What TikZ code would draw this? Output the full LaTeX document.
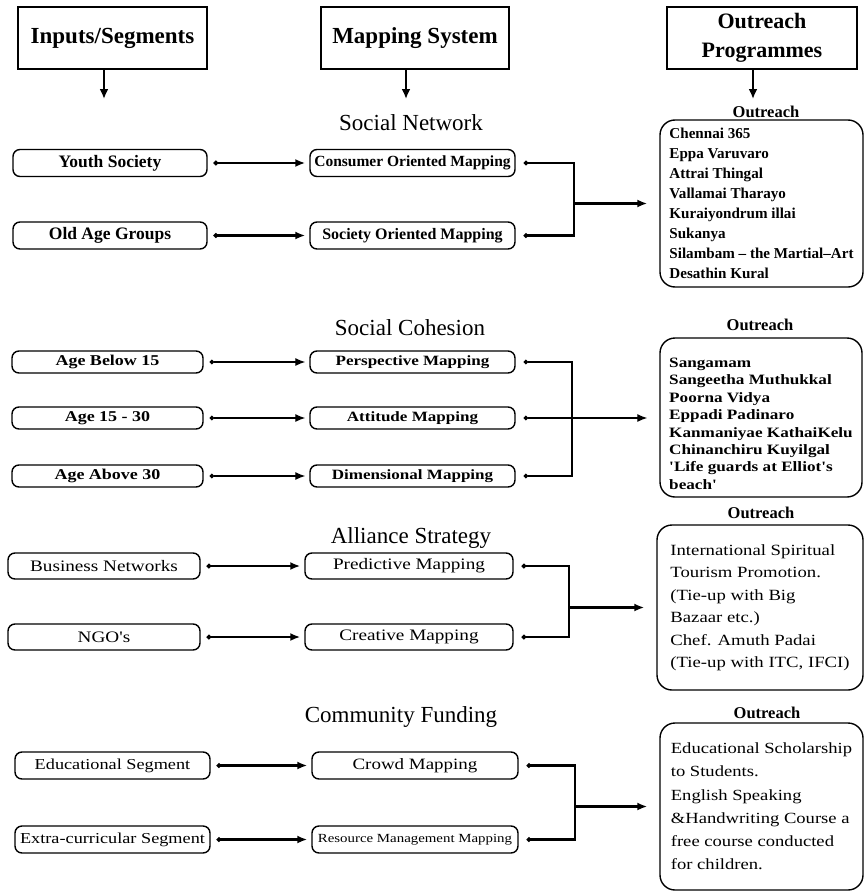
\documentclass[tikz,border=0pt]{standalone}
\usepackage{fontspec}
\setmainfont{Liberation Serif}
\newfontfamily\widerm[FakeStretch=1.2]{Liberation Serif}
\usetikzlibrary{arrows.meta}
\newcommand\fsz[2]{\fontsize{#1}{#2}\selectfont}

\begin{document}
\begin{tikzpicture}[x=1pt, y=-1pt,
    head/.style={draw, line width=1.5pt, minimum height=62pt, inner sep=0pt, align=center, font=\bfseries\fsz{23}{29}},
    seg/.style={draw, rounded corners=7pt, line width=1.4pt, inner sep=0pt},
    list/.style={draw, rounded corners=15pt, line width=1.4pt, align=left, inner sep=0pt},
    sect/.style={font=\fsz{23}{26}},
    olabel/.style={font=\bfseries\fsz{16.5}{18}},
    down/.style={line width=2.2pt, -{Latex[length=10pt,width=9pt]}},
    link/.style={line width=2.2pt, {Circle[length=4.5pt]}-{Latex[length=10pt,width=8pt]}, shorten <=6pt, shorten >=4pt},
    tail/.style={line width=2.2pt, {Circle[length=4.5pt]}-},
    feed/.style={line width=2.2pt, -{Latex[length=10pt,width=8pt]}, shorten >=12pt}]
\useasboundingbox (0,0) rectangle (865,891);

\node[head, minimum width=189pt] (hin) at (112.5,38) {Inputs/Segments};
\node[head, minimum width=188pt] (hmap) at (415,38) {Mapping System};
\node[head, minimum width=190pt, font=\bfseries\fsz{22}{29}] (hout) at (762,38) {Outreach\\Programmes};
\coordinate (din) at (104,99);
\coordinate (dmap) at (406,99);
\coordinate (dout) at (753,99);
\foreach \h/\c in {hin/din, hmap/dmap, hout/dout}
    \draw[down] (\c |- \h.south) -- (\c);

\node[sect] (sn) at (411,123) {Social Network};
\node[sect] (sc) at (410,328) {Social Cohesion};
\node[sect] (as) at (411,538) {Alliance Strategy};
\node[sect] (cf) at (401,717) {Community Funding};

\node[seg, minimum width=194pt, minimum height=27pt, font=\bfseries\fsz{17.5}{20}] (s11) at (110,163) {Youth Society};
\node[seg, minimum width=194pt, minimum height=27pt, font=\bfseries\fsz{17.5}{20}] (s12) at (110,235.5) {Old Age Groups};
\node[seg, minimum width=205pt, minimum height=27pt, font=\bfseries\fsz{15.5}{18}] (m11) at (412.5,163) {Consumer Oriented Mapping};
\node[seg, minimum width=205pt, minimum height=27pt, font=\bfseries\fsz{16}{18}] (m12) at (412.5,235.5) {Society Oriented Mapping};

\node[seg, minimum width=191pt, minimum height=22pt, font=\widerm\bfseries\fsz{15}{17}] (s21) at (107.5,362) {Age Below 15};
\node[seg, minimum width=191pt, minimum height=22pt, font=\widerm\bfseries\fsz{15}{17}] (s22) at (107.5,418) {Age 15 - 30};
\node[seg, minimum width=191pt, minimum height=22pt, font=\widerm\bfseries\fsz{15}{17}] (s23) at (107.5,476) {Age Above 30};
\node[seg, minimum width=205pt, minimum height=22pt, font=\widerm\bfseries\fsz{14.2}{17}] (m21) at (412.5,362) {Perspective Mapping};
\node[seg, minimum width=205pt, minimum height=22pt, font=\widerm\bfseries\fsz{14.2}{17}] (m22) at (412.5,418) {Attitude Mapping};
\node[seg, minimum width=205pt, minimum height=22pt, font=\widerm\bfseries\fsz{14.2}{17}] (m23) at (412.5,476) {Dimensional Mapping};

\node[seg, minimum width=192pt, minimum height=26pt, font=\widerm\fsz{16}{18}] (s31) at (104,566) {Business Networks};
\node[seg, minimum width=192pt, minimum height=26pt, font=\widerm\fsz{16}{18}] (s32) at (104,637) {NGO's};
\node[seg, minimum width=208pt, minimum height=26pt, font=\widerm\fsz{16}{18}] (m31) at (409,566) {Predictive Mapping};
\node[seg, minimum width=208pt, minimum height=26pt, font=\widerm\fsz{16}{18}] (m32) at (409,637) {Creative Mapping};

\node[seg, minimum width=195pt, minimum height=27pt, font=\widerm\fsz{15.2}{18}] (s41) at (112.5,765.5) {Educational Segment};
\node[seg, minimum width=195pt, minimum height=27pt, font=\widerm\fsz{15.2}{18}] (s42) at (112.5,839.5) {Extra-curricular Segment};
\node[seg, minimum width=206pt, minimum height=27pt, font=\widerm\fsz{15.8}{18}] (m41) at (415,765.5) {Crowd Mapping};
\node[seg, minimum width=206pt, minimum height=27pt, font=\widerm\fsz{12.4}{15}] (m42) at (415,839.5) {Resource Management Mapping};

\node[olabel] (l1) at (766,112) {Outreach};
\node[list, minimum width=203pt, minimum height=167pt, font=\bfseries\fsz{15.1}{20}] (o1) at (761.5,203.5)
    {Chennai 365\\Eppa Varuvaro\\Attrai Thingal\\Vallamai Tharayo\\Kuraiyondrum illai\\Sukanya\\Silambam -- the Martial--Art\\Desathin Kural};
\node[olabel] (l2) at (760,325) {Outreach};
\node[list, minimum width=202pt, minimum height=159pt, font=\widerm\bfseries\fsz{14.3}{17.4}] (o2) at (761,417.5)
    {\rule{0pt}{22pt}Sangamam\\Sangeetha Muthukkal\\Poorna Vidya\\Eppadi Padinaro\\Kanmaniyae KathaiKelu\\Chinanchiru Kuyilgal\\'Life guards at Elliot's\\beach'};
\node[olabel] (l3) at (761,513) {Outreach};
\node[list, minimum width=206pt, minimum height=165pt, font=\widerm\fsz{15.6}{22.5}] (o3) at (760,607.5)
    {International Spiritual\\Tourism Promotion.\\(Tie-up with Big\\Bazaar etc.)\\Chef. Amuth Padai\\(Tie-up with ITC, IFCI)};
\node[olabel] (l4) at (767,713) {Outreach};
\node[list, minimum width=203pt, minimum height=167pt, font=\widerm\fsz{15.5}{23.2}] (o4) at (761.5,806.5)
    {Educational Scholarship\\to Students.\\English Speaking\\\&Handwriting Course a\\free course conducted\\for children.};

\foreach \r in {11,12,31,32,41,42}
    \draw[link] (s\r) -- (m\r);
\foreach \r in {21,22,23}
    \draw[link, line width=1.3pt] (s\r) -- (m\r);

\coordinate (j1) at (574,203.5);
\coordinate (j2) at (572,418);
\coordinate (j3) at (569,607.5);
\coordinate (j4) at (575,806.5);
\foreach \m/\j in {m11/j1, m12/j1, m31/j3, m32/j3, m41/j4, m42/j4}
    \draw[tail] ([xshift=8pt]\m.east) -| (\j);
\foreach \m in {m21, m23}
    \draw[tail, line width=1.3pt] ([xshift=8pt]\m.east) -| (j2);
\draw[tail, line width=1.3pt] ([xshift=8pt]m22.east) -- (j2);
\foreach \j/\o in {j1/o1, j3/o3, j4/o4}
    \draw[feed] (\j) -- (\j -| \o.west);
\draw[feed, line width=1.3pt] (j2) -- (j2 -| o2.west);
\end{tikzpicture}
\end{document}
